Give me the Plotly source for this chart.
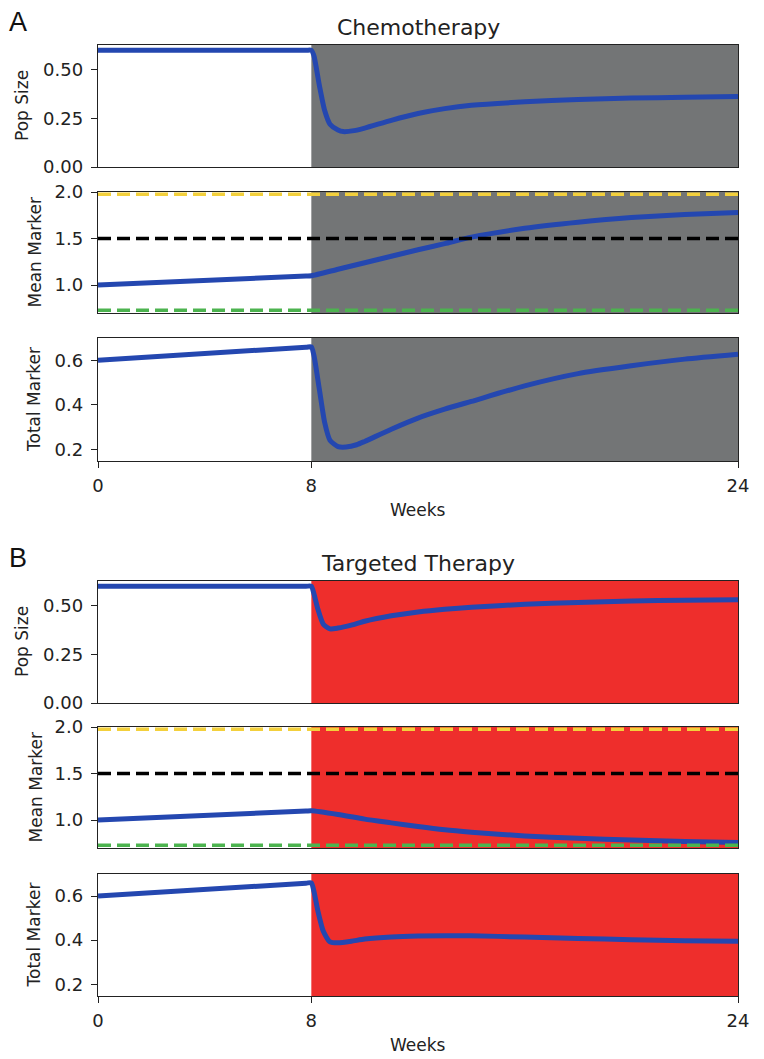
import plotly.graph_objects as go

# ---------------- data ----------------
x_ticks = [0, 8, 24]
treat_start = 8
treat_end = 24

chemo_pop_weeks = [0, 7.8, 8, 8.1, 8.3, 8.5, 8.7, 9.0, 9.2, 9.6, 10, 11, 12, 13, 14, 16, 18, 20, 22, 24]
chemo_pop = [0.6, 0.6, 0.6, 0.57, 0.42, 0.29, 0.22, 0.19, 0.182, 0.187, 0.20, 0.24, 0.275, 0.30, 0.317,
             0.335, 0.347, 0.354, 0.358, 0.362]

chemo_mean_weeks = [0, 7.8, 8, 9, 10, 11, 12, 13, 14, 16, 18, 20, 22, 24]
chemo_mean = [1.0, 1.0975, 1.10, 1.17, 1.24, 1.31, 1.38, 1.445, 1.515, 1.61, 1.675, 1.725, 1.757, 1.78]

chemo_total_weeks = [0, 7.8, 8, 8.1, 8.3, 8.5, 8.7, 9.0, 9.3, 9.7, 10, 11, 12, 13, 14, 16, 18, 20, 22, 24]
chemo_total = [0.6, 0.6585, 0.66, 0.62, 0.47, 0.32, 0.24, 0.212, 0.21, 0.22, 0.235, 0.29, 0.34, 0.38,
               0.415, 0.485, 0.54, 0.575, 0.605, 0.627]

targ_pop_weeks = [0, 7.8, 8, 8.1, 8.25, 8.45, 8.7, 9.0, 9.5, 10, 11, 12, 13, 14, 16, 18, 20, 22, 24]
targ_pop = [0.6, 0.6, 0.6, 0.56, 0.48, 0.405, 0.381, 0.385, 0.40, 0.42, 0.448, 0.468, 0.482, 0.492,
            0.507, 0.517, 0.524, 0.528, 0.53]

targ_mean_weeks = [0, 7.8, 8, 9, 10, 11, 12, 13, 14, 16, 18, 20, 22, 24]
targ_mean = [1.0, 1.0975, 1.10, 1.06, 1.01, 0.97, 0.93, 0.895, 0.87, 0.83, 0.805, 0.785, 0.77, 0.76]

targ_total_weeks = [0, 7.8, 8, 8.1, 8.25, 8.45, 8.7, 9.0, 9.5, 10, 11, 12, 14, 16, 18, 20, 22, 24]
targ_total = [0.6, 0.6585, 0.66, 0.62, 0.53, 0.44, 0.392, 0.388, 0.395, 0.405, 0.415, 0.419, 0.42,
              0.414, 0.408, 0.402, 0.398, 0.395]

threshold_upper = 1.975
threshold_mid = 1.5
threshold_lower = 0.73

panel_titles = ["Chemotherapy", "Targeted Therapy"]
panel_letters = ["A", "B"]
row_labels = ["Pop Size", "Mean Marker", "Total Marker"]
x_label = "Weeks"
pop_ticks = [0.0, 0.25, 0.5]
pop_ticklabels = ["0.00", "0.25", "0.50"]
mean_ticks = [1.0, 1.5, 2.0]
mean_ticklabels = ["1.0", "1.5", "2.0"]
total_ticks = [0.2, 0.4, 0.6]
total_ticklabels = ["0.2", "0.4", "0.6"]

# ---------------- styling / layout ----------------
W, H = 764, 1059
BLUE = "#2447b0"
SHADE = ["#737576", "#ee2e2c"]
AXC = "#222222"
FONT = "DejaVu Sans"


def px_x(px):
    return px / W


def px_y(py):
    return 1 - py / H


x_dom = [px_x(98), px_x(738)]
# pixel top/bottom of each subplot (page coordinates)
boxes = [(45, 167), (192, 313), (338, 461), (581, 703), (727, 848), (874, 996)]
ytitle_x = [22, 35, 33.5]

series = [
    (chemo_pop_weeks, chemo_pop), (chemo_mean_weeks, chemo_mean), (chemo_total_weeks, chemo_total),
    (targ_pop_weeks, targ_pop), (targ_mean_weeks, targ_mean), (targ_total_weeks, targ_total),
]
yranges = [[0, 0.627], [0.7, 2.0], [0.147, 0.70]]
yticks = [(pop_ticks, pop_ticklabels), (mean_ticks, mean_ticklabels), (total_ticks, total_ticklabels)]

fig = go.Figure()
layout = dict(
    template="none",
    width=W, height=H, margin=dict(l=0, r=0, t=0, b=0, pad=0), autosize=False,
    paper_bgcolor="white", plot_bgcolor="white", showlegend=False,
    font=dict(family=FONT, size=17, color=AXC),
)
shapes = []
annotations = []

for i in range(6):
    n = i + 1
    xa = "x" if n == 1 else f"x{n}"
    ya = "y" if n == 1 else f"y{n}"
    row = i % 3
    panel = i // 3
    top, bot = boxes[i]
    ydom = [px_y(bot), px_y(top)]
    bottom_row = row == 2

    layout[f"xaxis{'' if n == 1 else n}"] = dict(
        domain=x_dom, anchor=ya, range=[0, 24], automargin=False,
        showline=True, mirror=True, linecolor=AXC, linewidth=1.4,
        showgrid=False, zeroline=False,
        tickvals=x_ticks if bottom_row else [],
        ticktext=[str(v) for v in x_ticks] if bottom_row else [],
        ticks="outside" if bottom_row else "", ticklen=6, tickwidth=1.3, tickcolor=AXC,
        showticklabels=bottom_row, ticklabelstandoff=2,
        tickfont=dict(family=FONT, size=18, color=AXC),
    )
    tv, tt = yticks[row]
    layout[f"yaxis{'' if n == 1 else n}"] = dict(
        domain=ydom, anchor=xa, range=yranges[row], automargin=False,
        showline=True, mirror=True, linecolor=AXC, linewidth=1.4,
        showgrid=False, zeroline=False,
        tickvals=tv, ticktext=tt, ticks="outside", ticklen=6, tickwidth=1.3, tickcolor=AXC,
        ticklabelstandoff=4,
        tickfont=dict(family=FONT, size=18, color=AXC),
    )

    annotations.append(dict(text=row_labels[row], xref="paper", yref="paper",
                            x=px_x(ytitle_x[row]), y=px_y((top + bot) / 2),
                            xanchor="center", yanchor="middle", textangle=-90, showarrow=False,
                            font=dict(family=FONT, size=17, color=AXC)))
    if bottom_row:
        annotations.append(dict(text=x_label, xref="paper", yref="paper",
                                x=px_x(418), y=px_y(bot + 49), xanchor="center", yanchor="middle",
                                showarrow=False, font=dict(family=FONT, size=17, color=AXC)))

    shapes.append(dict(type="rect", xref=xa, yref=f"{ya} domain",
                       x0=treat_start, x1=treat_end, y0=0, y1=1,
                       fillcolor=SHADE[panel], line=dict(width=0), layer="below"))

    wk, vals = series[i]
    fig.add_trace(go.Scatter(x=wk, y=vals, xaxis=xa, yaxis=ya, mode="lines",
                             line=dict(color=BLUE, width=5, shape="spline", smoothing=0.6),
                             hoverinfo="skip"))

    if row == 1:
        for val, col in [(threshold_upper, "#f3d03c"), (threshold_mid, "#000000"),
                         (threshold_lower, "#4cb34f")]:
            fig.add_trace(go.Scatter(x=[0, 24], y=[val, val], xaxis=xa, yaxis=ya, mode="lines",
                                     line=dict(color=col, width=3.5, dash="13px,6px"),
                                     hoverinfo="skip"))

for p in range(2):
    top_px = boxes[p * 3][0]
    annotations.append(dict(text=panel_titles[p], xref="paper", yref="paper",
                            x=px_x(418), y=px_y(top_px - 18), xanchor="center", yanchor="middle",
                            showarrow=False, font=dict(family=FONT, size=22, color=AXC)))
    annotations.append(dict(text=panel_letters[p], xref="paper", yref="paper",
                            x=px_x(18), y=px_y(top_px - 23), xanchor="center", yanchor="middle",
                            showarrow=False, font=dict(family="Liberation Sans", size=27, color="#111")))

layout["shapes"] = shapes
layout["annotations"] = annotations
fig.update_layout(**layout)
# remove the browser's default 8px page margin so the figure fills the window exactly
fig.write_html("out.html", config={"displayModeBar": False},
               post_script="document.body.style.margin='0';")
